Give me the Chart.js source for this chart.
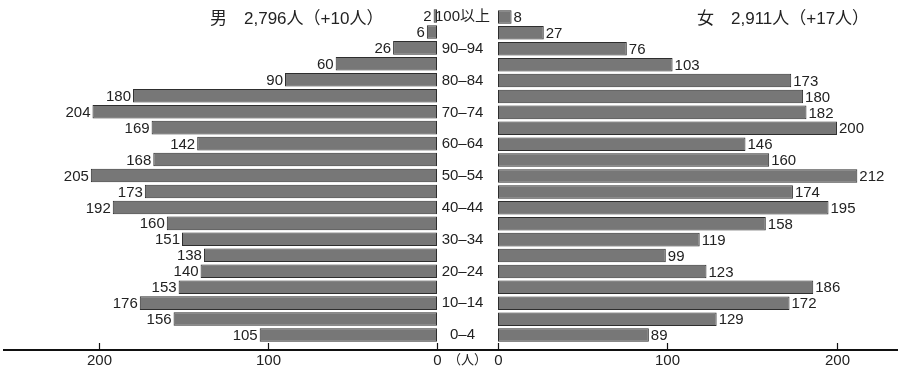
<!DOCTYPE html>
<html lang="ja">
<head>
<meta charset="utf-8">
<script src="https://cdn.jsdelivr.net/npm/chart.js@4"></script>
<style>
    html, body { margin: 0; padding: 0; background: #fff; }
    #wrap {
        position: relative;
        width: 900px;
        height: 367px;
        overflow: hidden;
        font-family: "Liberation Sans", Arial, "Noto Sans CJK JP", sans-serif;
        color: #222;
    }
    #maleCanvas { position: absolute; left: 0; top: 0; }
    #femaleCanvas { position: absolute; left: 437px; top: 0; }
    .title { position: absolute; top: 9px; font-size: 17px; line-height: 20px; white-space: nowrap; }
    .unit { position: absolute; top: 351px; left: 448px; width: 38px; text-align: center; font-size: 13px; line-height: 18px; white-space: nowrap; }
</style>
</head>
<body>
<div id="wrap">
    <canvas id="maleCanvas" width="450" height="367"></canvas>
    <canvas id="femaleCanvas" width="463" height="367"></canvas>
    <div class="title" style="left: 210px;">男　2,796人（+10人）</div>
    <div class="title" style="left: 697px;">女　2,911人（+17人）</div>
    <div class="unit">（人）</div>
</div>
<script>
const ageGroups = [
    "100以上", "95–99", "90–94", "85–89", "80–84", "75–79", "70–74",
    "65–69", "60–64", "55–59", "50–54", "45–49", "40–44", "35–39",
    "30–34", "25–29", "20–24", "15–19", "10–14", "5–9", "0–4",
];
const maleCounts = [
    2, 6, 26, 60, 90, 180, 204, 169, 142, 168, 205,
    173, 192, 160, 151, 138, 140, 153, 176, 156, 105,
];
const femaleCounts = [
    8, 27, 76, 103, 173, 180, 182, 200, 146, 160, 212,
    174, 195, 158, 119, 99, 123, 186, 172, 129, 89,
];
const axisTicks = [0, 100, 200];

const FONT_FAMILY = '"Liberation Sans", Arial, "Noto Sans CJK JP", sans-serif';
const FONT = "15px " + FONT_FAMILY;
const BAR_FILL = "#777777";
const BAR_EDGE = "#2e2e2e";

// numbers at the end of each bar
const valueLabels = {
    id: "valueLabels",
    afterDatasetsDraw(chart, args, opts) {
        const ctx = chart.ctx;
        const values = chart.data.datasets[0].data;
        ctx.save();
        ctx.font = FONT;
        ctx.fillStyle = "#222";
        ctx.textBaseline = "middle";
        chart.getDatasetMeta(0).data.forEach((bar, i) => {
            if (opts.side === "left") {
                ctx.textAlign = "right";
                ctx.fillText(values[i], bar.x - 2, bar.y + 1);
            } else {
                ctx.textAlign = "left";
                ctx.fillText(values[i], bar.x + 2, bar.y + 1);
            }
        });
        ctx.restore();
    },
};

// thick baseline with ticks pointing up, labels below
const bottomAxis = {
    id: "bottomAxis",
    afterDraw(chart, args, opts) {
        const ctx = chart.ctx;
        const xs = chart.scales.x;
        const y = opts.lineY;
        ctx.save();
        ctx.strokeStyle = "#111";
        ctx.lineWidth = 2;
        ctx.beginPath();
        ctx.moveTo(opts.from, y);
        ctx.lineTo(opts.to, y);
        ctx.stroke();
        ctx.lineWidth = 1.2;
        ctx.font = FONT;
        ctx.fillStyle = "#222";
        ctx.textAlign = "center";
        ctx.textBaseline = "middle";
        axisTicks.forEach((t) => {
            const px = Math.round(xs.getPixelForValue(t)) + 0.5;
            ctx.beginPath();
            ctx.moveTo(px, y);
            ctx.lineTo(px, y - 7);
            ctx.stroke();
            ctx.fillText(t, px, y + 11);
        });
        ctx.restore();
    },
};

function makeOptions(side) {
    const isLeft = side === "left";
    const yAxis = {
        display: !isLeft,
        grid: { display: false },
        border: { display: false },
        ticks: {
            font: { size: 15, family: FONT_FAMILY },
            color: "#222",
            crossAlign: "center",
            padding: 0,
        },
    };
    if (!isLeft) {
        yAxis.afterFit = (scale) => {
            scale.width = 61;
        };
    }
    return {
        responsive: false,
        animation: false,
        indexAxis: "y",
        layout: {
            padding: isLeft
                ? { left: 3, right: 13, top: 8, bottom: 24 }
                : { left: 0, right: 2, top: 8, bottom: 24 },
        },
        plugins: {
            legend: { display: false },
            tooltip: { enabled: false },
            valueLabels: { side },
            bottomAxis: isLeft
                ? { lineY: 350, from: 3, to: 440 }
                : { lineY: 350, from: 0, to: 461 },
        },
        scales: {
            x: {
                display: false,
                reverse: isLeft,
                min: 0,
                max: isLeft ? 257 : 236,
            },
            y: yAxis,
        },
    };
}

function makeData(values) {
    return {
        labels: ageGroups,
        datasets: [
            {
                data: values,
                backgroundColor: BAR_FILL,
                borderColor: BAR_EDGE,
                borderWidth: 1,
                borderSkipped: false,
                barPercentage: 0.85,
                categoryPercentage: 1,
            },
        ],
    };
}

new Chart(document.getElementById("maleCanvas"), {
    type: "bar",
    data: makeData(maleCounts),
    options: makeOptions("left"),
    plugins: [valueLabels, bottomAxis],
});

new Chart(document.getElementById("femaleCanvas"), {
    type: "bar",
    data: makeData(femaleCounts),
    options: makeOptions("right"),
    plugins: [valueLabels, bottomAxis],
});
</script>
</body>
</html>
